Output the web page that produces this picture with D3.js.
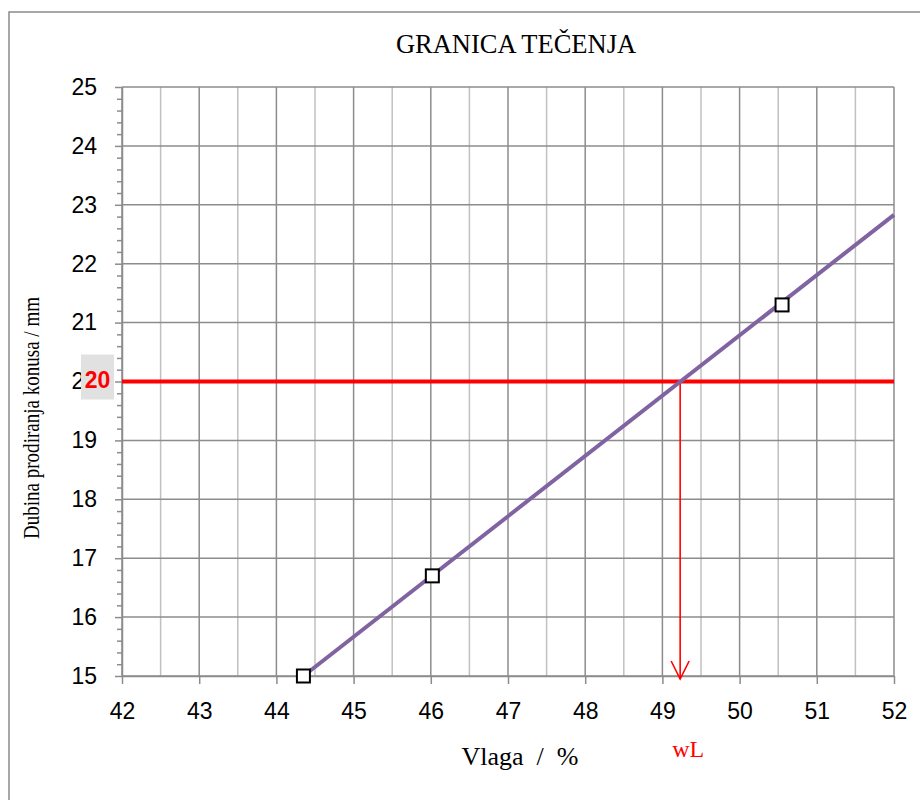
<!DOCTYPE html>
<html>
<head>
<meta charset="utf-8">
<script src="https://cdn.jsdelivr.net/npm/d3@7"></script>
<style>
  body { margin: 0; background: #fff; }
  svg { display: block; }
</style>
</head>
<body>
<svg id="chart"></svg>
<script>
// ---------------- podaci ----------------
let vlaga = [44.35, 46.02, 50.55]      // x, %
let dubina = [15.0, 16.7, 21.3]        // y, mm
let trendX = [44.35, 52]               // pravac kroz tocke
let trendY = [15.0, 22.83]
let granica = 20                       // dubina 20 mm
let wL = 49.23                         // ocitana granica tecenja
let xTicks = [42, 43, 44, 45, 46, 47, 48, 49, 50, 51, 52]
let yTicks = [15, 16, 17, 18, 19, 20, 21, 22, 23, 24, 25]

let width = 920
let height = 800

let svg = d3.select('#chart')
  .attr('width', width)
  .attr('height', height)

let xScale = d3.scaleLinear().domain([42, 52]).range([122, 894])
let yScale = d3.scaleLinear().domain([15, 25]).range([676, 87])

let majorGrid = '#8c8c8c'
let minorGrid = '#c0c0c0'

// okvir
svg.append('rect')
  .attr('x', 9).attr('y', 12)
  .attr('width', 940).attr('height', 820)
  .attr('fill', 'none')
  .attr('stroke', '#8a8a8a')
  .attr('stroke-width', 1.5)

// mreza - vertikalne linije na svakih 0.5
let halfSteps = d3.range(xTicks.length - 1).map(i => xTicks[i] + 0.5)
svg.append('g').selectAll('line')
  .data(halfSteps)
  .enter().append('line')
  .attr('x1', d => xScale(d)).attr('x2', d => xScale(d))
  .attr('y1', yScale(25)).attr('y2', yScale(15))
  .attr('stroke', minorGrid).attr('stroke-width', 1.5)

svg.append('g').selectAll('line')
  .data(xTicks)
  .enter().append('line')
  .attr('x1', d => xScale(d)).attr('x2', d => xScale(d))
  .attr('y1', yScale(25)).attr('y2', yScale(15))
  .attr('stroke', majorGrid).attr('stroke-width', 1.5)

svg.append('g').selectAll('line')
  .data(yTicks)
  .enter().append('line')
  .attr('x1', xScale(42)).attr('x2', xScale(52))
  .attr('y1', d => yScale(d)).attr('y2', d => yScale(d))
  .attr('stroke', majorGrid).attr('stroke-width', 1.5)

// osi
let tickFont = '"Liberation Sans", Arial, sans-serif'

let minorY = d3.range(0, 50).map(i => 15 + i * 0.2).filter(v => Math.abs(v - Math.round(v)) > 0.01)
let yMinorAxis = d3.axisLeft(yScale).tickValues(minorY).tickSize(5).tickFormat('')
let gyMinor = svg.append('g')
  .attr('transform', 'translate(' + xScale(42) + ',0)')
  .call(yMinorAxis)
gyMinor.select('.domain').remove()
gyMinor.selectAll('line').attr('stroke', majorGrid).attr('stroke-width', 1.5)

let yAxis = d3.axisLeft(yScale).tickValues(yTicks).tickSize(7).tickPadding(18).tickSizeOuter(0)
let gy = svg.append('g')
  .attr('id', 'y-axis')
  .attr('transform', 'translate(' + xScale(42) + ',0)')
  .call(yAxis)
gy.select('.domain').attr('stroke', majorGrid).attr('stroke-width', 1.5)
gy.selectAll('line').attr('stroke', majorGrid).attr('stroke-width', 1.5)
gy.selectAll('text')
  .style('font-family', tickFont).style('font-size', '23px').attr('fill', '#000')

let xAxis = d3.axisBottom(xScale).tickValues(xTicks).tickSize(8).tickPadding(19).tickSizeOuter(0)
let gx = svg.append('g')
  .attr('id', 'x-axis')
  .attr('transform', 'translate(0,' + yScale(15) + ')')
  .call(xAxis)
gx.select('.domain').attr('stroke', majorGrid).attr('stroke-width', 1.5)
gx.selectAll('line').attr('stroke', majorGrid).attr('stroke-width', 1.5)
gx.selectAll('text')
  .style('font-family', tickFont).style('font-size', '23px').attr('fill', '#000')

// crvena linija na 20 mm
svg.append('line')
  .attr('x1', xScale(42)).attr('x2', xScale(52))
  .attr('y1', yScale(granica)).attr('y2', yScale(granica))
  .attr('stroke', '#ff0000').attr('stroke-width', 4)

// oznaka 20 na osi (siva podloga preko obicne oznake)
svg.append('rect')
  .attr('x', 81).attr('y', yScale(granica) - 27)
  .attr('width', 33).attr('height', 45)
  .attr('fill', '#e1e1e1')
svg.append('text')
  .attr('x', 97.5).attr('y', yScale(granica) + 6)
  .attr('text-anchor', 'middle')
  .style('font-family', tickFont).style('font-size', '23px').style('font-weight', 'bold')
  .attr('fill', '#ff0000')
  .text(granica)

// strelica do wL
svg.append('line')
  .attr('x1', xScale(wL)).attr('x2', xScale(wL))
  .attr('y1', yScale(granica)).attr('y2', yScale(15) + 3)
  .attr('stroke', '#ff0000').attr('stroke-width', 1.6)
svg.append('path')
  .attr('d', d3.line()([[xScale(wL) - 9, yScale(15) - 15], [xScale(wL), yScale(15) + 3], [xScale(wL) + 9, yScale(15) - 15]]))
  .attr('fill', 'none').attr('stroke', '#ff0000').attr('stroke-width', 1.6)

// pravac
let line = d3.line().x(d => xScale(d[0])).y(d => yScale(d[1]))
svg.append('path')
  .datum(d3.zip(trendX, trendY))
  .attr('d', line)
  .attr('fill', 'none')
  .attr('stroke', '#8064a2')
  .attr('stroke-width', 4)

// tocke
svg.append('g').selectAll('rect')
  .data(d3.zip(vlaga, dubina))
  .enter().append('rect')
  .attr('x', d => xScale(d[0]) - 6.5)
  .attr('y', d => yScale(d[1]) - 6.5)
  .attr('width', 13).attr('height', 13)
  .attr('fill', '#fff')
  .attr('stroke', '#000').attr('stroke-width', 2)

// naslovi
let serif = '"Liberation Serif", "Times New Roman", serif'
svg.append('text')
  .attr('x', 516).attr('y', 53)
  .attr('text-anchor', 'middle')
  .style('font-family', serif).style('font-size', '26.5px')
  .text('GRANICA TEČENJA')

svg.append('text')
  .attr('x', 520).attr('y', 765)
  .attr('text-anchor', 'middle')
  .style('font-family', serif).style('font-size', '26px')
  .style('white-space', 'pre')
  .text('Vlaga  /  %')

svg.append('text')
  .attr('transform', 'translate(39,418) rotate(-90)')
  .attr('text-anchor', 'middle')
  .attr('textLength', 242)
  .attr('lengthAdjust', 'spacingAndGlyphs')
  .style('font-family', serif).style('font-size', '23px')
  .text('Dubina prodiranja konusa / mm')

svg.append('text')
  .attr('x', xScale(wL) + 8).attr('y', 757)
  .attr('text-anchor', 'middle')
  .style('font-family', serif).style('font-size', '24px')
  .attr('fill', '#ff0000')
  .text('wL')
</script>
</body>
</html>
